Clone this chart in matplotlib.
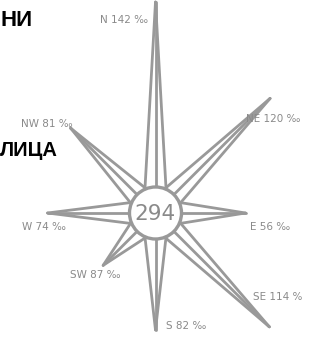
import numpy as np
import matplotlib
matplotlib.use("Agg")
import matplotlib.pyplot as plt
from matplotlib.patches import Circle

# datos
directions = ["N", "NE", "E", "SE", "S", "SW", "W", "NW"]
permille = ["142 ‰", "120 ‰", "56 ‰", "114 %", "82 ‰", "87 ‰", "74 ‰", "81 ‰"]
spike_len = [211, 162, 90, 161, 117, 74, 108, 120]   # largo de cada punta (px)
total = "294"

# estilo de etiquetas: desplazamiento desde la punta y alineacion
lab_off = [(-7, 18), (-24, 21), (5, 14), (-16, -30), (10, -4), (-8, 10), (-4, 14), (2, -4)]
lab_ha = ["right", "left", "left", "left", "left", "center", "center", "right"]

W, H = 318, 338
cx, cy = 155.5, 213
r0 = 26
gray = "#999999"

fig = plt.figure(figsize=(W / 100, H / 100), dpi=100)
ax = fig.add_axes([0, 0, 1, 1])
ax.set_xlim(0, W)
ax.set_ylim(H, 0)
ax.axis("off")

half = np.radians(24)
for i, d in enumerate(directions):
    a = np.radians(45 * i)
    L = spike_len[i]
    tx, ty = cx + L * np.sin(a), cy - L * np.cos(a)
    # tres lineas: dos bordes y la central
    for da in (-half, 0, half):
        bx, by = cx + r0 * np.sin(a + da), cy - r0 * np.cos(a + da)
        ax.plot([bx, tx], [by, ty], color=gray, lw=2.0, solid_capstyle="round", zorder=2)
    ox, oy = lab_off[i]
    ax.text(tx + ox, ty + oy, f"{d} {permille[i]}", ha=lab_ha[i], va="center",
            fontsize=7.5, color="#8a8a8a", family=["Liberation Sans Narrow", "DejaVu Sans"])

ax.add_patch(Circle((cx, cy), r0, facecolor="white", edgecolor=gray, lw=2.4, zorder=3))
ax.text(cx, cy + 1, total, ha="center", va="center", fontsize=15.5, color="#8a8a8a",
        family=["Liberation Sans Narrow", "DejaVu Sans"], zorder=4)

# textos recortados a la izquierda
ax.text(0, 21, "НИ", ha="left", va="center", fontsize=16, fontweight="bold",
        color="black", family=["Liberation Sans", "DejaVu Sans"])
ax.text(0, 151, "ЛИЦА", ha="left", va="center", fontsize=14.5, fontweight="bold",
        color="black", family=["Liberation Sans", "DejaVu Sans"])

fig.savefig("out.png", dpi=100)
